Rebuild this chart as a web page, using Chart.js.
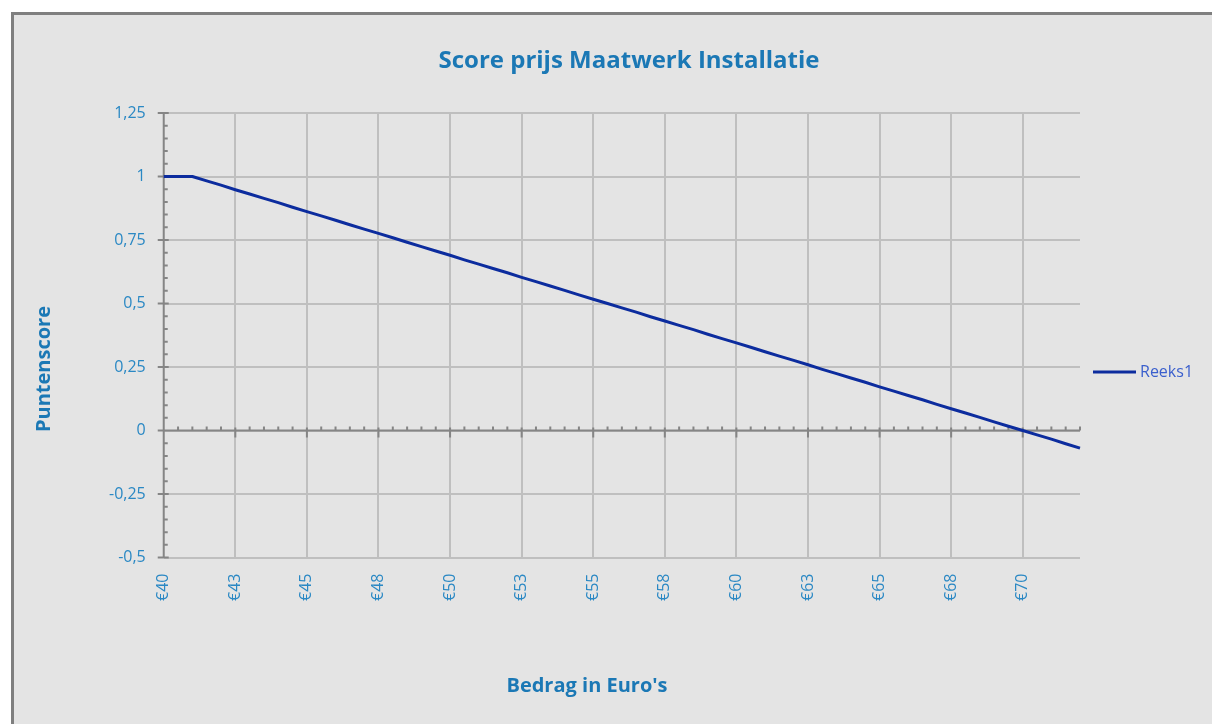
<!DOCTYPE html>
<html lang="nl">
<head>
<meta charset="utf-8">
<title>Score prijs Maatwerk Installatie</title>
<script src="https://cdn.jsdelivr.net/npm/chart.js@4.4.1/dist/chart.umd.min.js"></script>
<style>
  html, body { margin: 0; padding: 0; background: #ffffff; overflow: hidden; }
  #frame {
    position: absolute; left: 11px; top: 12px;
    width: 1300px; height: 800px;
    background: #e4e4e4;
    border-left: 3px solid #7f7f7f; border-top: 3px solid #7f7f7f;
  }
  #chart { position: absolute; left: 0; top: 0; }
</style>
</head>
<body>
<div id="frame"><canvas id="chart" width="1230" height="709"></canvas></div>
<script>
/* ===== Data ===== */
// bedragen in euro, stap 0,50
const prijzen = [
  40, 40.5, 41, 41.5, 42, 42.5, 43, 43.5, 44, 44.5,
  45, 45.5, 46, 46.5, 47, 47.5, 48, 48.5, 49, 49.5,
  50, 50.5, 51, 51.5, 52, 52.5, 53, 53.5, 54, 54.5,
  55, 55.5, 56, 56.5, 57, 57.5, 58, 58.5, 59, 59.5,
  60, 60.5, 61, 61.5, 62, 62.5, 63, 63.5, 64, 64.5,
  65, 65.5, 66, 66.5, 67, 67.5, 68, 68.5, 69, 69.5,
  70, 70.5, 71, 71.5, 72
];
// puntenscore (Reeks1)
const scores = [
  1, 1, 1, 0.983, 0.966, 0.948, 0.931, 0.914, 0.897, 0.879,
  0.862, 0.845, 0.828, 0.810, 0.793, 0.776, 0.759, 0.741, 0.724, 0.707,
  0.690, 0.672, 0.655, 0.638, 0.621, 0.603, 0.586, 0.569, 0.552, 0.534,
  0.517, 0.500, 0.483, 0.466, 0.448, 0.431, 0.414, 0.397, 0.379, 0.362,
  0.345, 0.328, 0.310, 0.293, 0.276, 0.259, 0.241, 0.224, 0.207, 0.190,
  0.172, 0.155, 0.138, 0.121, 0.103, 0.086, 0.069, 0.052, 0.034, 0.017,
  0, -0.017, -0.034, -0.052, -0.069
];
// labels op de x-as: elke 5e categorie
const xTickLabels = ["€40", "€43", "€45", "€48", "€50", "€53", "€55", "€58", "€60", "€63", "€65", "€68", "€70"];
const yTickLabels = ["-0,5", "-0,25", "0", "0,25", "0,5", "0,75", "1", "1,25"];

/* ===== Kleuren ===== */
const TITLE_BLUE = "#1b78b5";
const TICK_BLUE = "#2a88c4";
const LEGEND_BLUE = "#3a5fcd";
const AXIS_GREY = "#858585";
const GRID_GREY = "#bfbfbf";
const LINE_BLUE = "#0c2c9e";
const FONT = "'Open Sans', sans-serif";

Chart.defaults.font.family = FONT;

/* ===== Excel-achtige assen, titels en legenda ===== */
const excelAxes = {
  id: "excelAxes",
  beforeDatasetsDraw(chart) {
    const { ctx, chartArea: a, scales: { x, y } } = chart;
    const y0 = y.getPixelForValue(0);
    ctx.save();
    ctx.strokeStyle = AXIS_GREY;
    ctx.lineWidth = 2;
    ctx.beginPath();
    // y-as
    ctx.moveTo(a.left, a.top);
    ctx.lineTo(a.left, a.bottom);
    // x-as op nul
    ctx.moveTo(a.left, y0);
    ctx.lineTo(a.right, y0);
    // y streepjes (hoofd 0,25 / hulp 0,05)
    for (let v = 0; v <= 35; v++) {
      const py = y.getPixelForValue(-0.5 + v * 0.05);
      if (v % 5 === 0) { ctx.moveTo(a.left - 6, py); ctx.lineTo(a.left + 5, py); }
      else { ctx.moveTo(a.left, py); ctx.lineTo(a.left + 4, py); }
    }
    // x streepjes
    prijzen.forEach((p, i) => {
      const px = x.getPixelForValue(i);
      if (i % 5 === 0) { ctx.moveTo(px, y0 - 3); ctx.lineTo(px, y0 + 7); }
      else { ctx.moveTo(px, y0 - 4); ctx.lineTo(px, y0); }
    });
    ctx.stroke();
    ctx.restore();
  },
  afterDraw(chart) {
    const { ctx } = chart;
    const ds = chart.data.datasets[0];
    ctx.save();
    ctx.fillStyle = TITLE_BLUE;
    ctx.textAlign = "center";
    ctx.textBaseline = "middle";
    // hoofdtitel
    ctx.font = "bold 24px " + FONT;
    ctx.fillText("Score prijs Maatwerk Installatie", 615, 46);
    // astitels
    ctx.font = "bold 20px " + FONT;
    ctx.fillText("Bedrag in Euro's", 573, 671);
    ctx.save();
    ctx.translate(30, 354);
    ctx.rotate(-Math.PI / 2);
    ctx.fillText("Puntenscore", 0, 0);
    ctx.restore();
    // legenda
    ctx.strokeStyle = ds.borderColor;
    ctx.lineWidth = ds.borderWidth;
    ctx.beginPath();
    ctx.moveTo(1079, 357);
    ctx.lineTo(1122, 357);
    ctx.stroke();
    ctx.fillStyle = LEGEND_BLUE;
    ctx.font = "16px " + FONT;
    ctx.textAlign = "left";
    ctx.fillText(ds.label, 1126, 357);
    ctx.restore();
  }
};

new Chart(document.getElementById("chart"), {
  type: "line",
  data: {
    labels: prijzen,
    datasets: [{
      label: "Reeks1",
      data: scores,
      borderColor: LINE_BLUE,
      backgroundColor: LINE_BLUE,
      borderWidth: 3,
      borderJoinStyle: "round",
      pointRadius: 0,
      tension: 0,
      fill: false,
    }],
  },
  options: {
    responsive: false,
    animation: false,
    layout: { padding: { left: 77, right: 164, top: 98, bottom: 107 } },
    plugins: {
      title: { display: false },
      legend: { display: false },
      tooltip: { enabled: false },
    },
    scales: {
      x: {
        type: "category",
        offset: false,
        grid: {
          drawTicks: false,
          lineWidth: 2,
          color: c => (c.index % 5 === 0 && c.index > 0 ? GRID_GREY : "transparent"),
        },
        border: { display: false },
        ticks: {
          autoSkip: false,
          minRotation: 90,
          maxRotation: 90,
          padding: 16,
          color: TICK_BLUE,
          font: { size: 16 },
          callback: (v, i) => (i % 5 === 0 ? xTickLabels[i / 5] : ""),
        },
      },
      y: {
        min: -0.5,
        max: 1.25,
        grid: { drawTicks: false, lineWidth: 2, color: GRID_GREY },
        border: { display: false },
        ticks: {
          stepSize: 0.25,
          padding: 18,
          color: TICK_BLUE,
          font: { size: 16 },
          callback: (v, i) => yTickLabels[i],
        },
      },
    },
  },
  plugins: [excelAxes],
});
</script>
</body>
</html>
